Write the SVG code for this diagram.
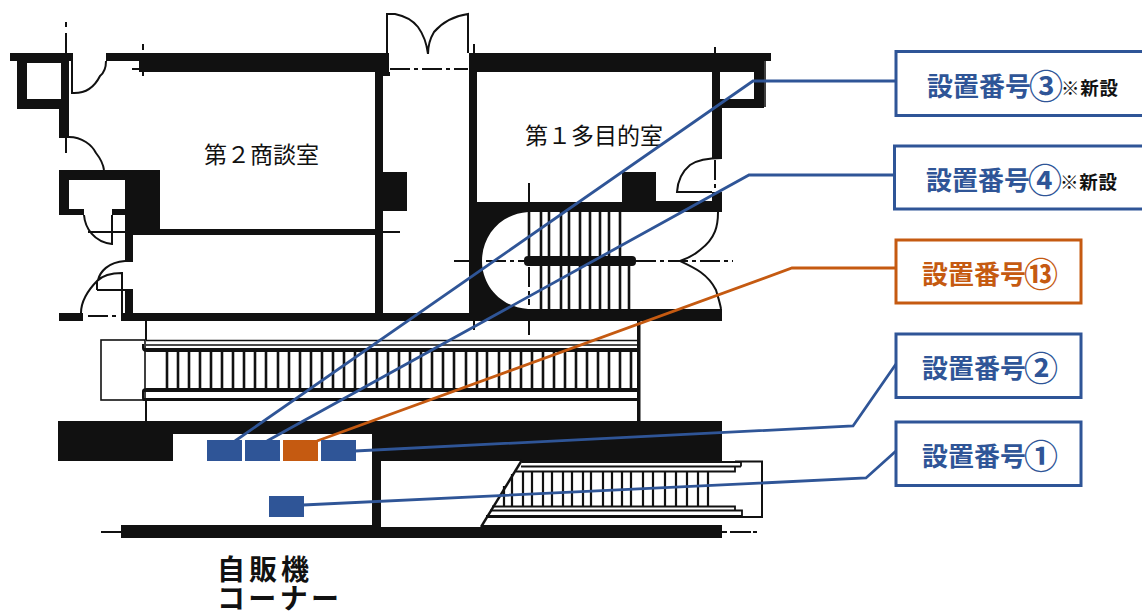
<svg xmlns="http://www.w3.org/2000/svg" width="1142" height="612" viewBox="0 0 1142 612">
<style>
.w{fill:#111;stroke:none}
.t{fill:none;stroke:#111;stroke-width:1.6}
.m{fill:none;stroke:#111;stroke-width:2}
.s{fill:none;stroke:#111;stroke-width:2.6}
.dd{fill:none;stroke:#111;stroke-width:2;stroke-dasharray:20 4 4 4}
.b{fill:#fff;stroke-width:3}
.blue{stroke:#2f5597}.orange{stroke:#c55a11}
.cb{fill:none;stroke:#2f5597;stroke-width:2.8}
.co{fill:none;stroke:#c55a11;stroke-width:2.8}
.lab{font-family:"Noto Sans CJK JP","Liberation Sans",sans-serif;font-weight:700;font-size:26px}
.num{font-size:34px;font-weight:700}
.nw{font-family:"Noto Sans CJK JP","Liberation Sans",sans-serif;font-weight:700;font-size:18.500px;fill:#111}
.room{font-family:"Noto Sans CJK JP","Liberation Sans",sans-serif;font-size:23px;fill:#111}
.vm{font-family:"Noto Sans CJK JP","Liberation Sans",sans-serif;font-size:28px;font-weight:700;fill:#111}
</style>
<rect width="1142" height="612" fill="#fff"/>
<g id="plan">
<path class="w" fill-rule="evenodd" d="M10 53H73V61H69V138H59V109H17V61H10ZM27 63V99H61V63Z"/>
<rect class="w" x="106" y="53" width="35" height="8"/>
<rect class="w" x="139" y="53" width="250" height="19"/>
<rect class="w" x="375" y="72" width="15" height="4"/>
<rect class="w" x="375" y="72" width="8" height="243"/>
<rect class="w" x="383" y="172" width="24" height="39"/>
<path class="w" fill-rule="evenodd" d="M59 170H160V235H133V262H125V215H112V209H125V180H69V209H84V215H59Z"/>
<rect class="w" x="160" y="229" width="215" height="6"/>
<rect class="w" x="125" y="289" width="8" height="26"/>
<rect class="w" x="59" y="313" width="24" height="8"/>
<rect class="w" x="121" y="313" width="601" height="8"/>
<path class="w" fill-rule="evenodd" d="M469 53H771V61H764V108H722V158H712V72H477V202H622V172H656V201H712V192H722V212H528C500 214 482 236 482 261C482 285 500 307 528 309H722V321H469ZM720 72V99H754V72Z"/>
<path class="t" d="M765 61V107"/>
<path class="m" d="M66 22V27M66 33V153M143 44V50M143 72V76M72 61V93C88 94 96 84 100 76C105 72 106 66 106 61M69 137C82 137 92 145 96 153C100 158 103 163 104 170M84 215C85 228 94 242 112 244V215M88 232H125M125 261C108 262 100 272 98 280C88 290 81 300 81 313M97 290V281Q105 273 122 273V313M97 290H125M132 232H160M383 232H400M387 53V14H395Q410 17 418 27Q426 38 428 54Q428 42 434 32Q447 17 468 14V53M474 44V53M715 47V53M722 158Q700 158 690 165Q678 175 677 192H712M718 212C718 225 716 238 700 250C693 256 686 259 680 261C695 268 708 274 716 290C718 297 720 303 721 309M474 321V330M529 183V212M529 321V335M146 321V340M146 400V421M101 532H121"/>
<path class="dd" d="M132 69H139M390 69H468M454 261H524M636 261H733M715 160V192M88 316H120"/>
<path class="dd" d="M529 267V305"/>
<rect class="w" x="524" y="256" width="112" height="10" rx="4"/>
<path class="s" d="M529 212V256M541 212V256M549 212V256M561 212V256M569 212V256M580 212V256M590 212V256M600 212V256M609 212V256M620 212V256M541 266V309M549 266V309M561 266V309M569 266V309M580 266V309M590 266V309M600 266V309M609 266V309M620 266V309M629 266V309"/>
<rect x="101" y="340" width="44" height="60" fill="#fff" stroke="#111" stroke-width="1.600"/>
<path class="t" d="M146 340.500H640M146 345H640"/>
<path class="w" d="M144 348H637V352H147Q142 352 142 348V344H144ZM147 388H637V392H142V391Q142 388 147 388ZM142 392H144V398H640V401H144Q142 401 142 398Z"/>
<path class="s" d="M167 350V390M178 350V390M189 350V390M200 350V390M211 350V390M222 350V390M233 350V390M244 350V390M255 350V390M266 350V390M278 350V390M289 350V390M300 350V390M311 350V390M322 350V390M333 350V390M344 350V390M355 350V390M366 350V390M377 350V390M388 350V390M399 350V390M410 350V390M421 350V390M432 350V390M443 350V390M454 350V390M466 350V390M477 350V390M487 350V390M499 350V390M510 350V390M521 350V390M532 350V390M543 350V390M554 350V390M565 350V390M576 350V390M587 350V390M598 350V390M609 350V390M620 350V390M631 350V390"/>
<rect class="w" x="637" y="321" width="3.500" height="100"/>
<path class="w" d="M58 421H722V461H372V434H173V461H58Z"/>
<rect class="w" x="372" y="461" width="9" height="66"/>
<path class="w" d="M121 525H381V527H481V525H722V538H121Z"/>
<path class="m" d="M735 461.500H762V517H741"/>
<path class="m" d="M522 462H741V466.500M521 466.500H741M516 471.500H735V466.500M492 506.500H735V510.500M490 510.500H742V516M490 516H735" style="stroke-width:1.800"/>
<path class="w" d="M486 515H742V518H486Z"/>
<path class="s" d="M504 486V506M512 474V506M523 472V506M532 472V506M543 472V506M552 472V506M563 472V506M572 472V506M583 472V506M591 472V506M603 472V506M612 472V506M622 472V506M631 472V506M643 472V506M653 472V506M665 472V506M676 472V506M687 472V506M698 472V506M708 472V506" style="stroke-width:2.200"/>
<path class="m" d="M522 460L481 527" style="stroke-width:2.400"/>
<path d="M722 532H727M730 532H751M753 532H757" class="m"/>
</g>
<g id="rooms">
<text class="room" x="204" y="163" textLength="115" lengthAdjust="spacing">第２商談室</text>
<text class="room" x="525" y="144" textLength="138" lengthAdjust="spacing">第１多目的室</text>
<text class="vm" x="217" y="580" textLength="92" lengthAdjust="spacing">自販機</text>
<text class="vm" x="217" y="609" textLength="122" lengthAdjust="spacing">コーナー</text>
</g>
<g id="connectors">
<path class="cb" d="M235 441L753 81H896"/>
<path class="cb" d="M267 441L749 175H895"/>
<path class="co" d="M317 441L792 268H896"/>
<path class="cb" d="M355 451L853 426L896 364"/>
<path class="cb" d="M303 505L866 478L896 451"/>
</g>
<g id="machines" stroke="none">
<rect x="207" y="440" width="35" height="21" fill="#2f5597"/>
<rect x="245" y="440" width="35" height="21" fill="#2f5597"/>
<rect x="283" y="440" width="35" height="21" fill="#c55a11"/>
<rect x="321" y="440" width="35" height="21" fill="#2f5597"/>
<rect x="269" y="496" width="35" height="21" fill="#2f5597"/>
</g>
<g id="node-3"><rect class="b blue" x="896" y="51.500" width="250" height="64"/><text class="lab" x="927" y="96" fill="#2f5597">設置番号<tspan class="num" x="1029" y="99">③</tspan></text><text class="nw" x="1061" y="95" textLength="57">※新設</text></g>
<g id="node-4"><rect class="b blue" x="894.500" y="146" width="250" height="63"/><text class="lab" x="926" y="190" fill="#2f5597">設置番号<tspan class="num" x="1028" y="193">④</tspan></text><text class="nw" x="1060" y="189" textLength="57">※新設</text></g>
<g id="node-13"><rect class="b orange" x="896" y="240" width="185" height="63"/><text class="lab" x="922" y="284" fill="#c55a11">設置番号<tspan class="num" x="1024" y="287">⑬</tspan></text></g>
<g id="node-2"><rect class="b blue" x="896" y="334" width="185" height="63.500"/><text class="lab" x="922" y="378" fill="#2f5597">設置番号<tspan class="num" x="1024" y="381">②</tspan></text></g>
<g id="node-1"><rect class="b blue" x="896" y="422" width="185" height="63.500"/><text class="lab" x="922" y="466" fill="#2f5597">設置番号<tspan class="num" x="1024" y="469">①</tspan></text></g>
</svg>
